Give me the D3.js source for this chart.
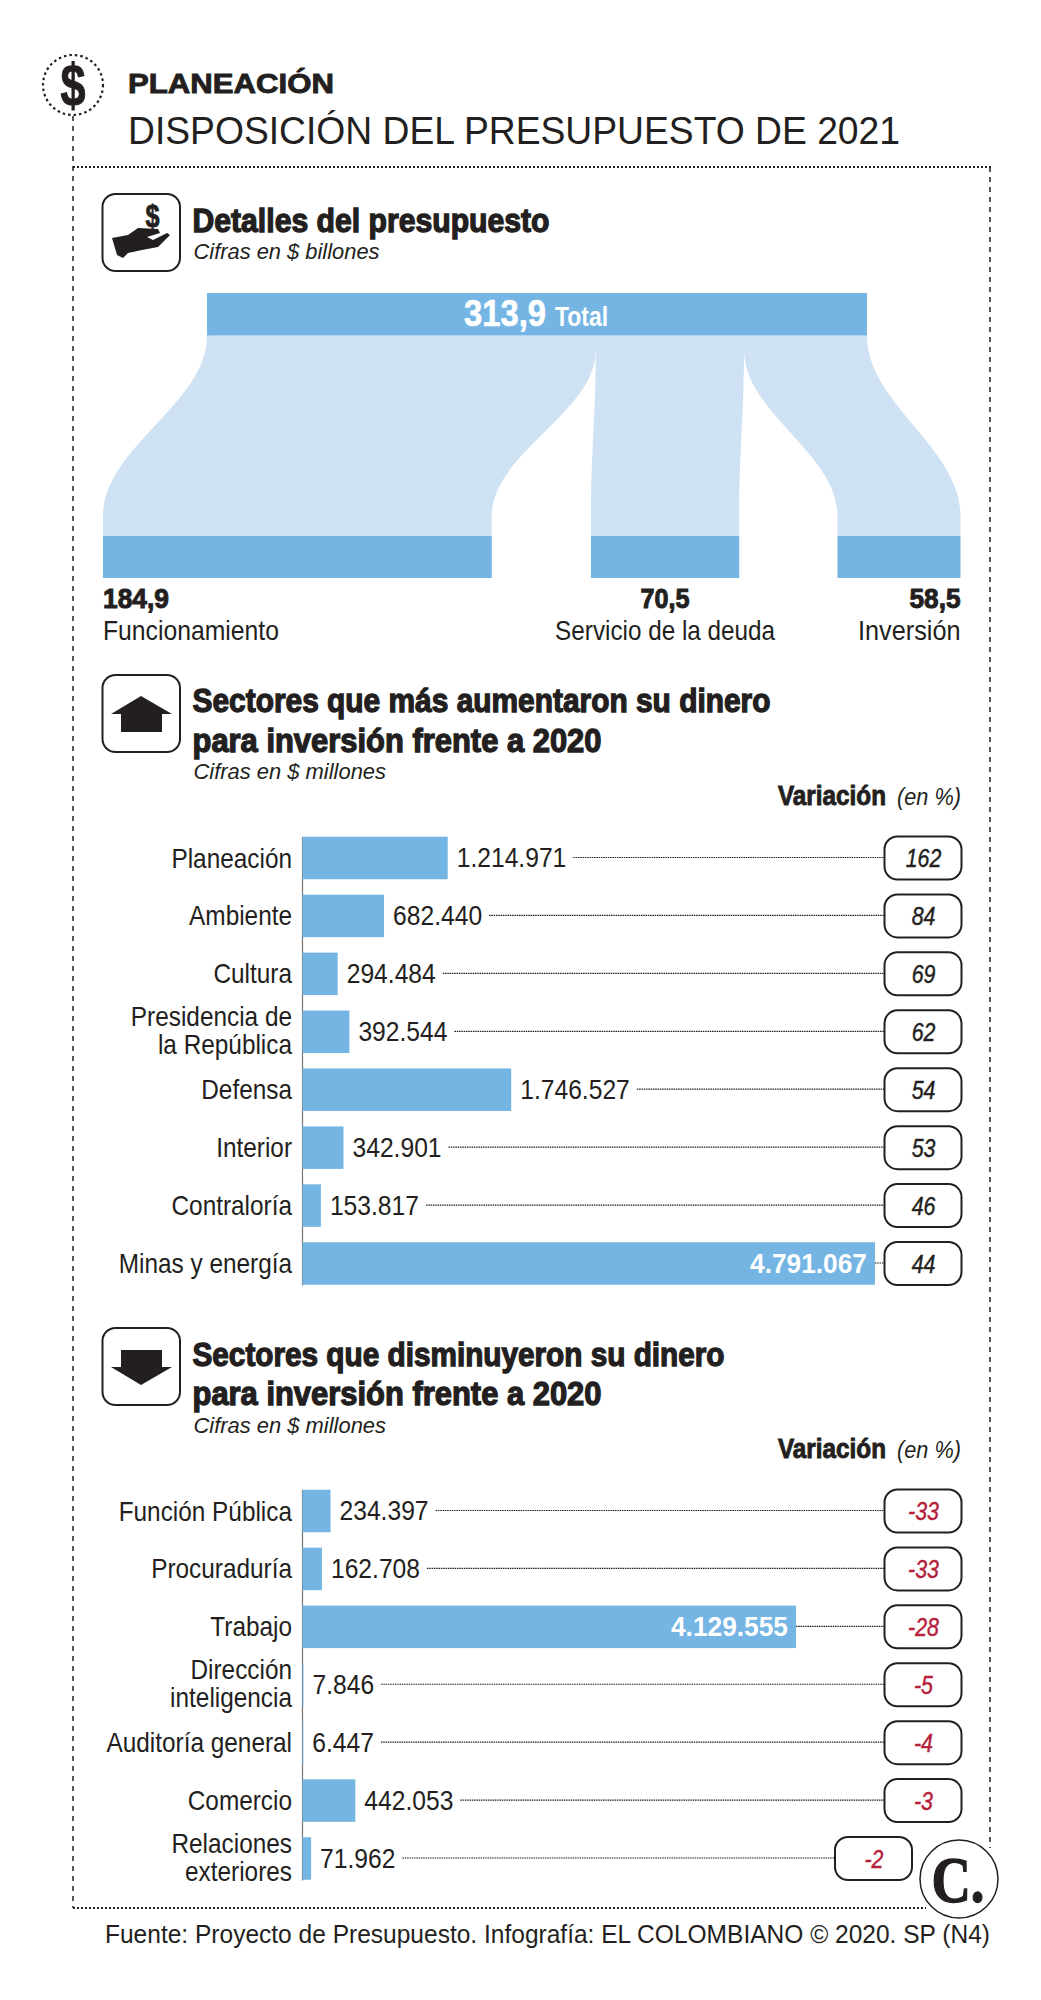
<!DOCTYPE html>
<html><head><meta charset="utf-8">
<script src="https://cdn.jsdelivr.net/npm/d3@7/dist/d3.min.js"></script>
<style>html,body{margin:0;background:#fff}svg{display:block}text{font-family:"Liberation Sans",Arial,sans-serif}</style>
</head><body><svg id="c" width="1041" height="2000"></svg>
<script>
// ---------- data ----------
const budgetTotal = 313.9;
const budgetNames = ["Funcionamiento","Servicio de la deuda","Inversión"];
const budgetValues = [184.9,70.5,58.5];
const upSectors = ["Planeación","Ambiente","Cultura","Presidencia de|la República","Defensa","Interior","Contraloría","Minas y energía"];
const upValues = [1214971,682440,294484,392544,1746527,342901,153817,4791067];
const upPct = [162,84,69,62,54,53,46,44];
const downSectors = ["Función Pública","Procuraduría","Trabajo","Dirección|inteligencia","Auditoría general","Comercio","Relaciones|exteriores"];
const downValues = [234397,162708,4129555,7846,6447,442053,71962];
const downPct = [-33,-33,-28,-5,-4,-3,-2];

// ---------- style ----------
const INK="#231f20", BLUE="#74b5e4", PALE="#cfe2f4", RED="#b5213a";
const svg=d3.select("#c");
const num=d3.formatLocale({decimal:",",thousands:".",grouping:[3],currency:["$",""]});
const fmtInt=num.format(",d"), fmt1=num.format(",.1f");
const closed=d3.line().curve(d3.curveLinearClosed);

function fit(t,opt){
  const n=t.node(), len=n.getComputedTextLength();
  const w=opt.w||len*(opt.k||1);
  t.attr("textLength",w).attr("lengthAdjust","spacingAndGlyphs");
  return t;
}
function txt(x,y,s,o={}){
  const t=svg.append("text").attr("x",x).attr("y",y).text(s)
    .attr("font-size",o.size||28).attr("fill",o.fill||INK)
    .attr("font-weight",o.weight||"normal").attr("font-style",o.style||"normal")
    .attr("text-anchor",o.anchor||"start");
  if(o.family) t.style("font-family",o.family);
  if(o.stroke) t.attr("stroke",o.fill||INK).attr("stroke-width",o.stroke);
  return fit(t,o);
}

// ---------- header + frame ----------
const frame=svg.append("g").attr("fill","none").attr("stroke",INK);
frame.append("line").attr("x1",73).attr("x2",73).attr("y1",116).attr("y2",1908).attr("stroke-width",1.5).attr("stroke-dasharray","5 5");
frame.append("line").attr("x1",73).attr("x2",991).attr("y1",167).attr("y2",167).attr("stroke-width",2).attr("stroke-dasharray","2 2");
frame.append("line").attr("x1",990).attr("x2",990).attr("y1",167).attr("y2",1848).attr("stroke-width",1.5).attr("stroke-dasharray","5 5");
frame.append("line").attr("x1",73).attr("x2",926).attr("y1",1908).attr("y2",1908).attr("stroke-width",2).attr("stroke-dasharray","2 2");
svg.append("circle").attr("cx",73).attr("cy",85).attr("r",30).attr("fill","#fff").attr("stroke",INK).attr("stroke-width",2.2).attr("stroke-dasharray","2.5 3");
txt(73,106,"$",{size:60,weight:"bold",anchor:"middle",w:25,stroke:1});
txt(128,93,"PLANEACIÓN",{size:28,weight:"bold",w:206,stroke:.9});
txt(128,144,"DISPOSICIÓN DEL PRESUPUESTO DE 2021",{size:38,w:772});

function iconBox(y){ svg.append("rect").attr("x",102.5).attr("y",y).attr("width",77.5).attr("height",77).attr("rx",13).attr("fill","#fff").attr("stroke",INK).attr("stroke-width",2); }
function heading(y,s,w){ return txt(192.5,y,s,{size:33,weight:"bold",w,stroke:1.3}); }
function sub(y,s,w){ return txt(193.5,y,s,{size:22,style:"italic",w}); }

// ---------- section 1: budget flows ----------
iconBox(194);
txt(152.5,227,"$",{size:32,weight:"bold",anchor:"middle",w:14,stroke:.8});
svg.append("path").attr("fill",INK).attr("d",closed([[112,238],[128,235],[138,228],[158,229],[160,233],[147,237],[153,240],[167,233],[170,235],[158,247],[142,250],[128,253],[123,258],[117,255]]));
heading(232,"Detalles del presupuesto",357);
sub(259,"Cifras en $ billones",186);

const x0=d3.scaleLinear().domain([0,budgetTotal]).range([207,867]);
const topY=293, barH=42.5, flowTop=topY+barH, botY=536, curveEnd=516, tipY=350;
const botStart=[103,591,837.5];
const linear=d3.scaleLinear().domain([0,budgetTotal]).range([0,x0(budgetTotal)-x0(0)]);
svg.append("rect").attr("x",x0(0)).attr("y",flowTop).attr("width",linear(budgetTotal)).attr("height",tipY-flowTop+1).attr("fill",PALE);
const numW=[66,49,51], nameW=[176,220,102.5];
let cum=0;
budgetValues.forEach((v,i)=>{
  const tl=x0(cum), tr=x0(cum+v), bl=botStart[i], br=bl+linear(v);
  const yl=i===0?flowTop:tipY, yr=i===budgetValues.length-1?flowTop:tipY;
  const p=d3.path();
  const hr=(curveEnd-yr)*.38, hl=(curveEnd-yl)*.38;
  p.moveTo(tl,yl);
  p.lineTo(tr,yr);
  p.bezierCurveTo(tr,yr+hr,br,curveEnd-hr,br,curveEnd);
  p.lineTo(br,botY); p.lineTo(bl,botY); p.lineTo(bl,curveEnd);
  p.bezierCurveTo(bl,curveEnd-hl,tl,yl+hl,tl,yl);
  p.closePath();
  svg.append("path").attr("d",p.toString()).attr("fill",PALE);
  svg.append("rect").attr("x",bl).attr("y",botY).attr("width",linear(v)).attr("height",barH-.5).attr("fill",BLUE);
  const anc=i===0?"start":i===1?"middle":"end";
  const ax=i===0?bl:i===1?(bl+br)/2:br;
  txt(ax,608,fmt1(v),{size:28,weight:"bold",anchor:anc,w:numW[i],stroke:1});
  txt(ax,640,budgetNames[i],{size:28,anchor:anc,w:nameW[i]});
  cum+=v;
});
svg.append("rect").attr("x",x0(0)).attr("y",topY).attr("width",linear(budgetTotal)).attr("height",barH).attr("fill",BLUE);
txt(464,326,fmt1(budgetTotal),{size:36,weight:"bold",fill:"#fff",w:82,stroke:.6});
txt(555,326,"Total",{size:28,fill:"#fff",weight:"bold",w:53});

// ---------- bar sections ----------
function barChart(cfg){
  const x=d3.scaleLinear().domain([0,4791067]).range([302.5,875]);
  const y=d3.scalePoint().domain(cfg.names).range(cfg.yRange);
  const bh=42.5;
  const axis=d3.axisLeft(y).tickSize(0).tickPadding(10).tickFormat(()=>"");
  const ag=svg.append("g").attr("transform","translate(302.5,0)").call(axis);
  ag.select(".domain").remove();
  ag.append("line").attr("y1",cfg.yRange[0]-21).attr("y2",cfg.yRange[1]+22).attr("stroke","#777").attr("stroke-width",1.2);
  ag.selectAll(".tick text").each(function(d){
    const t=d3.select(this).text(null).attr("font-size",28).attr("fill",INK).attr("text-anchor","end").attr("dy",null).attr("y",null);
    const parts=d.split("|");
    parts.forEach((s,j)=>{
      const ts=t.append("tspan").attr("x",-10.5).attr("y",parts.length>1?(j===0?-6:22):9).text(s);
      const l=ts.node().getComputedTextLength();
      ts.attr("textLength",l*.87).attr("lengthAdjust","spacingAndGlyphs");
    });
  });
  const g=svg.append("g");
  cfg.names.forEach((n,i)=>{
    const v=cfg.values[i], cy=y(n), w=x(v)-x(0);
    g.append("rect").attr("x",x(0)).attr("y",cy-bh/2).attr("width",w).attr("height",bh).attr("fill",BLUE);
    const inside=w>300;
    const t=txt(inside?x(v)-8:x(v)+9,cy+9,fmtInt(v),inside
      ?{size:28,weight:"bold",fill:"#fff",anchor:"end",w:117}
      :{size:28,k:.88});
    const endX=inside?x(v):x(v)+9+(+t.attr("textLength"))+7;
    const pillX=(cfg.shiftLast&&i===cfg.names.length-1)?835:884.5;
    if(endX+6<pillX) svg.append("line").attr("x1",endX).attr("x2",pillX).attr("y1",cy-.5).attr("y2",cy-.5).attr("stroke",INK).attr("stroke-width",1.2).attr("stroke-dasharray","1.5 .8");
    svg.append("rect").attr("x",pillX).attr("y",cy-21.5).attr("width",77).attr("height",43).attr("rx",13).attr("fill","#fff").attr("stroke",INK).attr("stroke-width",2);
    const neg=cfg.pct[i]<0;
    const c=neg?RED:INK;
    txt(pillX+39,cy+9,String(cfg.pct[i]),{size:26,style:"italic",fill:c,anchor:"middle",k:.82,stroke:.45});
  });
  txt(778,cfg.capY,"Variación",{size:27,weight:"bold",w:108,stroke:.9});
  txt(897,cfg.capY,"(en %)",{size:23,style:"italic",w:64});
}

iconBox(675);
svg.append("path").attr("fill",INK).attr("d",closed([[141,696],[172,714],[162,714],[162,732],[121,732],[121,714],[111,714]]));
heading(712,"Sectores que más aumentaron su dinero",578);
heading(752,"para inversión frente a 2020",409);
sub(779,"Cifras en $ millones",192.5);
barChart({names:upSectors,values:upValues,pct:upPct,yRange:[858,1263.5],capY:805});

iconBox(1328);
svg.append("path").attr("fill",INK).attr("d",closed([[121,1350],[162,1350],[162,1367],[172,1367],[141,1385],[111,1367],[121,1367]]));
heading(1366,"Sectores que disminuyeron su dinero",532);
heading(1405,"para inversión frente a 2020",409);
sub(1433,"Cifras en $ millones",192.5);
barChart({names:downSectors,values:downValues,pct:downPct,yRange:[1511,1858.5],capY:1458,shiftLast:true});

// ---------- logo + source ----------
svg.append("circle").attr("cx",959).attr("cy",1879).attr("r",39).attr("fill","#fff").attr("stroke",INK).attr("stroke-width",1.5);
txt(958,1902,"C.",{size:66,weight:"bold",anchor:"middle",w:53,family:'"Liberation Serif",serif',stroke:1.4});
txt(105,1943,"Fuente: Proyecto de Presupuesto. Infografía: EL COLOMBIANO © 2020. SP (N4)",{size:25,w:885});
</script></body></html>
